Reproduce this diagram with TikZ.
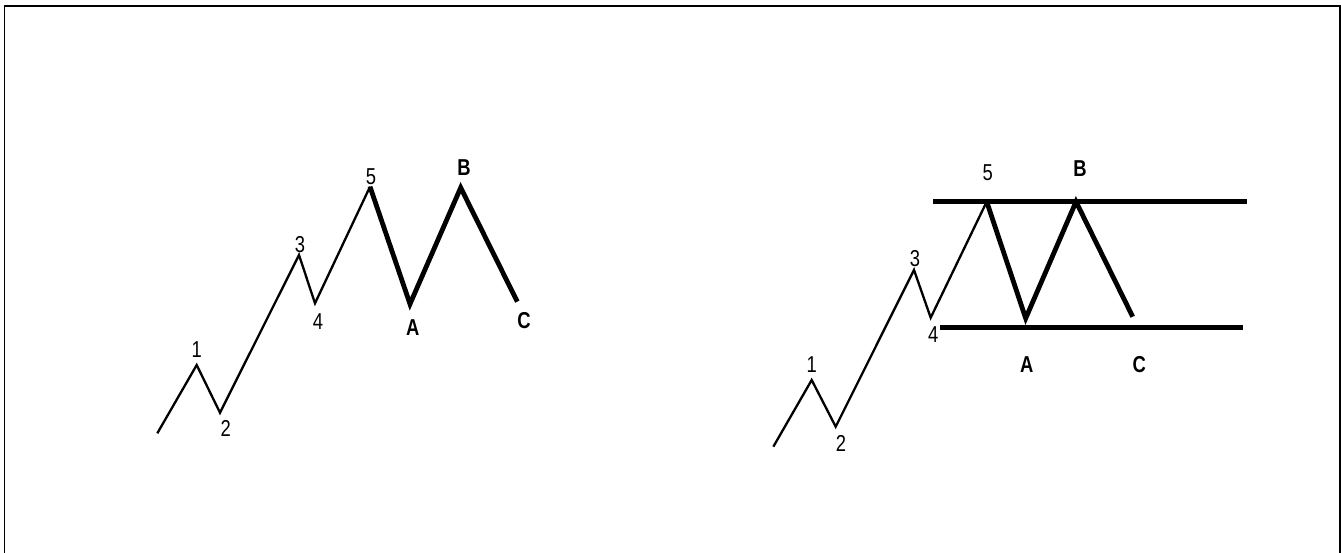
\documentclass[tikz,border=0pt]{standalone}
\usepackage{fontspec}
\setmainfont{Liberation Sans}[FakeStretch=0.8]
\usepackage{tikz}
\usetikzlibrary{positioning}

\tikzset{
  thinwave/.style={line width=2.3pt, line join=miter},
  thickwave/.style={line width=4.8pt, line join=miter},
  channel/.style={line width=5pt},
  numlbl/.style={font=\fontsize{23}{23}\selectfont, inner sep=0pt},
  letlbl/.style={font=\fontsize{23}{23}\selectfont\bfseries, inner sep=0pt}
}

\begin{document}
\begin{tikzpicture}[x=1pt, y=-1pt]
  \useasboundingbox (0,0) rectangle (1341,553);
  \draw[line width=1.5pt] (4.5,553) -- (4.5,6) -- (1340,6) -- (1340,553);

  % left: impulse then zigzag
  \foreach \n/\x/\y in {s/157.3/433.3, 1/196.7/365, 2/220/412.7, 3/299/255, 4/315/303.3,
                        5/370/186.7, A/410/304, B/460.7/187.7, C/517.3/301.7}
    { \coordinate (l\n) at (\x,\y); }
  \draw[thinwave] (ls) -- (l1) -- (l2) -- (l3) -- (l4) -- (l5);
  \draw[thickwave] (l5) -- (lA) -- (lB) -- (lC);
  \node[numlbl] (ln1) at (196.7,350) {1};
  \node[numlbl] (ln2) at (225.7,428) {2};
  \node[numlbl] (ln3) at (300,245) {3};
  \node[numlbl] (ln4) at (318,321.7) {4};
  \node[numlbl] (ln5) at (371,176.7) {5};
  \node[letlbl] (lnA) at (412.7,328) {A};
  \node[letlbl] (lnB) at (464,168) {B};
  \node[letlbl] (lnC) at (524,320.7) {C};

  % right: same waves inside a flat channel
  \foreach \n/\x/\y in {s/773.3/446.7, 1/811.7/380, 2/835.7/426.7, 3/914/270, 4/930.7/317.7,
                        5/986.7/201.7, A/1025.7/318.3, B/1076/201.7, C/1132.7/316.7}
    { \coordinate (r\n) at (\x,\y); }
  \coordinate (topL) at (933.3,201.7);
  \coordinate (topR) at (1247.3,201.7);
  \coordinate (botL) at (940,327.3);
  \coordinate (botR) at (1242.7,327.3);
  \draw[channel] (topL) -- (topR);
  \draw[channel] (botL) -- (botR);
  \draw[thinwave] (rs) -- (r1) -- (r2) -- (r3) -- (r4) -- (r5);
  \draw[thickwave] (r5) -- (rA) -- (rB) -- (rC);
  \node[numlbl] (rn1) at (811.7,365) {1};
  \node[numlbl] (rn2) at (841,443.3) {2};
  \node[numlbl] (rn3) at (915,258.3) {3};
  \node[numlbl] (rn4) at (933.3,335) {4};
  \node[numlbl] (rn5) at (987.7,172.7) {5};
  \node[letlbl] (rnA) at (1026.7,365) {A};
  \node[letlbl] (rnB) at (1080,168.3) {B};
  \node[letlbl] (rnC) at (1139.3,365) {C};
\end{tikzpicture}
\end{document}
